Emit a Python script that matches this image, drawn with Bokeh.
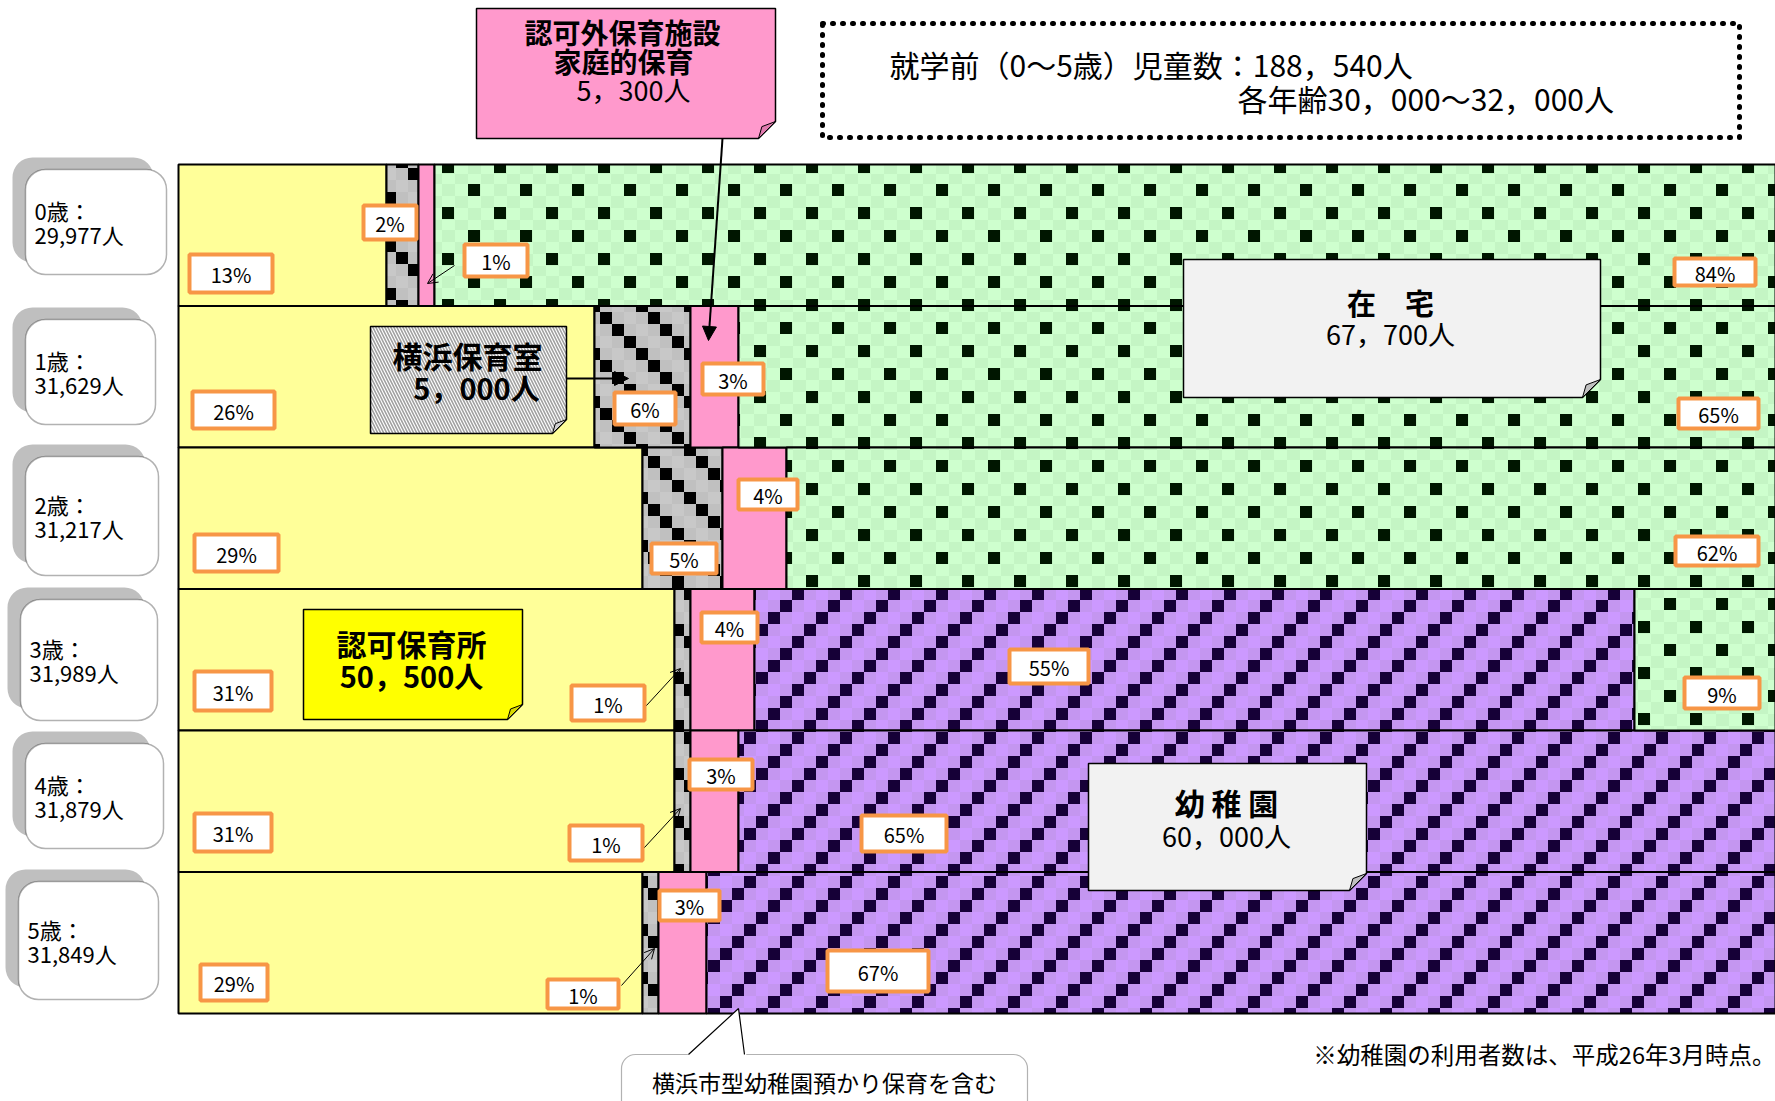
import zlib, struct, base64
import numpy as np
from bokeh.plotting import figure
from bokeh.models import (Range1d, ColumnDataSource, BoxAnnotation, Arrow,
                          NormalHead, OpenHead, ImageURLTexture)
from bokeh.core.properties import value
from bokeh.embed import file_html
from bokeh.resources import INLINE

# ---------------- data ----------------
ages = ["0歳", "1歳", "2歳", "3歳", "4歳", "5歳"]
children = ["29,977", "31,629", "31,217", "31,989", "31,879", "31,849"]
categories = ["認可保育所", "横浜保育室", "認可外保育施設・家庭的保育", "幼稚園", "在宅"]
ninka = [13, 26, 29, 31, 31, 29]        # 認可保育所 %
yokohama = [2, 6, 5, 1, 1, 1]           # 横浜保育室 %
ninkagai = [1, 3, 4, 4, 3, 3]           # 認可外保育施設・家庭的保育 %
youchien = [0, 0, 0, 55, 65, 67]        # 幼稚園 %
zaitaku = [84, 65, 62, 9, 0, 0]         # 在宅 %
category_totals = ["50，500人", "5，000人", "5，300人", "60，000人", "67，700人"]
total_line1 = "就学前（0～5歳）児童数：188，540人"
total_line2 = "各年齢30，000～32，000人"
note_text = "※幼稚園の利用者数は、平成26年3月時点。"
callout_text = "横浜市型幼稚園預かり保育を含む"

FONT = value("Noto Sans CJK JP")

# ---------------- textures ----------------
def png_url(w, h, pix):
    raw = bytearray()
    for yy in range(h):
        raw.append(0)
        for xx in range(w):
            raw.extend(pix(xx, yy))
    def chunk(t, d):
        c = struct.pack(">I", len(d)) + t + d
        return c + struct.pack(">I", zlib.crc32(t + d) & 0xffffffff)
    png = (b"\x89PNG\r\n\x1a\n"
           + chunk(b"IHDR", struct.pack(">IIBBBBB", w, h, 8, 2, 0, 0, 0))
           + chunk(b"IDAT", zlib.compress(bytes(raw)))
           + chunk(b"IEND", b""))
    return "data:image/png;base64," + base64.b64encode(png).decode()

def green_pix(x, y):
    if (x < 12 and y < 12) or (26 <= x < 38 and 23 <= y < 35):
        return (0, 22, 0)
    return (206, 255, 206) if ((x // 13 + y // 12) % 2) else (196, 245, 196)

def purple_pix(x, y):
    if ((x // 12) + (y // 12)) % 4 == 3:
        return (22, 0, 55)
    return (204, 153, 255) if ((x // 12 + y // 12) % 2) else (196, 150, 240)

def gray_pix(x, y):
    if ((x // 12) - (y // 12)) % 4 == 0:
        return (0, 0, 0)
    return (192, 192, 192) if ((x // 12 + y // 12) % 2) else (200, 200, 200)

tex_green = ImageURLTexture(url=png_url(52, 46, green_pix))
tex_purple = ImageURLTexture(url=png_url(48, 48, purple_pix))
tex_gray = ImageURLTexture(url=png_url(48, 48, gray_pix))

# ---------------- figure ----------------
W, H = 1775, 1101
p = figure(width=W, height=H, x_range=Range1d(0, W), y_range=Range1d(H, 0),
           output_backend="svg", toolbar_location=None, min_border=0,
           x_axis_type=None, y_axis_type=None)
p.xgrid.visible = False
p.ygrid.visible = False
p.outline_line_color = None
p.background_fill_color = "white"

# bar coordinate systems: percent on x, row index on y
PX0, PXW = 178.0, 16.0          # screen x of 0%, pixels per %
ROW_TOP, ROW_H = 164.0, 141.5   # screen y of first row top, row height
x0p = -PX0 / PXW
y0r = -0.5 - ROW_TOP / ROW_H
p.extra_x_ranges = {"pct": Range1d(x0p, x0p + W / PXW)}
p.extra_y_ranges = {"row": Range1d(y0r + H / ROW_H, y0r)}

series = [ninka, yokohama, ninkagai, youchien, zaitaku]
arr = np.array(series, dtype=float)
cum = np.cumsum(arr, axis=0)
lefts = cum - arr
styles = [
    dict(fill_color="#FFFF99"),
    dict(fill_color="#C0C0C0", hatch_pattern=value("gray"), hatch_extra={"gray": tex_gray}),
    dict(fill_color="#FF99CC"),
    dict(fill_color="#CC99FF", hatch_pattern=value("purple"), hatch_extra={"purple": tex_purple}),
    dict(fill_color="#CCFFCC", hatch_pattern=value("green"), hatch_extra={"green": tex_green}),
]
for k in range(len(series)):
    idx = [r for r in range(len(ages)) if arr[k, r] > 0]
    src = ColumnDataSource(dict(row=idx, left=lefts[k, idx], right=cum[k, idx]))
    p.hbar(y="row", left="left", right="right", height=1.0, source=src,
           line_color="black", line_width=2,
           x_range_name="pct", y_range_name="row", **styles[k])

# ---------------- left age labels ----------------
age_boxes = [(25, 166, 169, 274), (25, 155, 319, 424), (25, 158, 456, 575),
             (20, 157, 599, 720), (25, 163, 743, 848), (18, 158, 881, 999)]
for (bx0, bx1, by0, by1) in age_boxes:
    p.add_layout(BoxAnnotation(left=bx0 - 13, right=bx1 - 13, top=by0 - 12, bottom=by1 - 12,
                               fill_color="#BFBFBF", fill_alpha=1, line_color=None,
                               border_radius=20, level="underlay"))
for (bx0, bx1, by0, by1) in age_boxes:
    p.add_layout(BoxAnnotation(left=bx0, right=bx1, top=by0, bottom=by1,
                               fill_color="white", fill_alpha=1, line_color="black",
                               line_width=1.5, border_radius=20, level="underlay"))
lx, ly1, ly2, t1, t2 = [], [], [], [], []
for r, (bx0, bx1, by0, by1) in enumerate(age_boxes):
    c = (by0 + by1) / 2
    lx.append(bx0 + 9); ly1.append(c - 12); ly2.append(c + 12)
    t1.append(ages[r] + "："); t2.append(children[r] + "人")
p.text(x=lx, y=ly1, text=t1, text_font=FONT, text_font_size="22px",
       text_align="left", text_baseline="middle", text_color="black")
p.text(x=lx, y=ly2, text=t2, text_font=FONT, text_font_size="22px",
       text_align="left", text_baseline="middle", text_color="black")

# ---------------- callout note boxes ----------------
def note(x0, x1, y0, y1, f, fill, fold, **kw):
    p.patch([x0, x1, x1, x1 - f, x0], [y0, y0, y1 - f, y1, y1],
            fill_color=fill, line_color="black", line_width=1.5, **kw)
    p.patch([x1, x1 - f, x1 - 0.8 * f], [y1 - f, y1, y1 - 0.7 * f],
            fill_color=fold, line_color="black", line_width=1)

note(476, 775, 8, 138, 17, "#FF99CC", "#E07AAE")
note(370, 566, 326, 433, 14, "white", "#D0D0D0",
     hatch_pattern="left_diagonal_line", hatch_color="#A0A0A0", hatch_scale=6, hatch_weight=1.6)
note(303, 522, 609, 719, 15, "#FFFF00", "#D8D800")
note(1183, 1600, 259, 397, 18, "#F2F2F2", "#C0C0C0")
note(1088, 1366, 763, 890, 17, "#F2F2F2", "#C0C0C0")

# ---------------- dotted info box ----------------
p.line([822, 1739, 1739, 822, 822], [23, 23, 137, 137, 23], line_color="black",
       line_width=5, line_dash="1 9", line_cap="round")
p.text(x=[889, 1237], y=[63, 97], text=[total_line1, total_line2], text_font=FONT,
       text_font_size="30px", text_align="left", text_baseline="middle", text_color="black")

# ---------------- bottom callout ----------------
p.add_layout(BoxAnnotation(left=621, right=1027, top=1054, bottom=1130, fill_color="white",
                           fill_alpha=1, line_color="black", line_width=1.2,
                           border_radius=14, level="underlay"))
p.patch([686, 738, 746], [1055.5, 1008, 1055.5], fill_color="white", line_color=None)
p.multi_line([[688, 738, 744]], [[1054, 1008, 1054]], line_color="black", line_width=1.2)
p.text(x=[824], y=[1081], text=[callout_text], text_font=FONT, text_font_size="23px",
       text_align="center", text_baseline="middle", text_color="black")

# bottom-right note
p.text(x=[1775], y=[1053], text=[note_text], text_font=FONT, text_font_size="23.5px",
       text_align="right", text_baseline="middle", text_color="black")

# ---------------- percent label boxes ----------------
label_boxes = {
    (0, 0): (187, 274, 252, 294), (0, 1): (361, 418, 203, 241), (0, 2): (462, 529, 242, 278), (0, 4): (1672, 1757, 256, 287),
    (1, 0): (190, 276, 389, 430), (1, 1): (612, 677, 390, 426), (1, 2): (700, 765, 361, 396), (1, 4): (1676, 1760, 396, 430),
    (2, 0): (192, 280, 532, 573), (2, 1): (649, 718, 541, 575), (2, 2): (736, 799, 477, 511), (2, 4): (1673, 1760, 534, 567),
    (3, 0): (192, 273, 669, 712), (3, 1): (569, 646, 683, 722), (3, 2): (699, 759, 610, 644), (3, 3): (1007, 1090, 647, 685), (3, 4): (1682, 1761, 675, 710),
    (4, 0): (192, 273, 811, 853), (4, 1): (567, 644, 823, 862), (4, 2): (687, 754, 757, 791), (4, 3): (859, 948, 813, 853),
    (5, 0): (198, 269, 962, 1002), (5, 1): (545, 620, 977, 1010), (5, 2): (657, 721, 888, 922), (5, 3): (825, 930, 948, 993),
}
qx0, qx1, qy0, qy1, tx, ty, tt = [], [], [], [], [], [], []
for (r, k), (bx0, bx1, by0, by1) in label_boxes.items():
    qx0.append(bx0 + 2); qx1.append(bx1 - 2); qy0.append(by0 + 2); qy1.append(by1 - 2)
    tx.append((bx0 + bx1) / 2); ty.append((by0 + by1) / 2 + 1)
    tt.append(f"{series[k][r]}%")
p.quad(left=qx0, right=qx1, top=qy0, bottom=qy1, fill_color="white",
       line_color="#F79646", line_width=4)
p.text(x=tx, y=ty, text=tt, text_font=FONT, text_font_size="20px",
       text_align="center", text_baseline="middle", text_color="black")

# ---------------- callout texts ----------------
def bold(x, y, s, size="29px"):
    p.text(x=[x], y=[y], text=[s], text_font=FONT, text_font_size=size, text_font_style="bold",
           text_align="center", text_baseline="middle", text_color="black")

def normal(x, y, s, size="26px"):
    p.text(x=[x], y=[y], text=[s], text_font=FONT, text_font_size=size,
           text_align="center", text_baseline="middle", text_color="black")

bold(622, 31, "認可外保育施設", "28px")
bold(623, 60, "家庭的保育", "28px")
normal(633, 89, category_totals[2], "27px")
bold(467, 354, categories[1], "30px")
bold(476, 386, category_totals[1], "29px")
bold(411, 642, categories[0], "30px")
bold(411, 674, category_totals[0], "29px")
bold(1390, 301, "在　宅", "29px")
normal(1390, 333, category_totals[4], "27px")
bold(1226, 801, "幼 稚 園", "30px")
normal(1226, 835, category_totals[3], "27px")

# ---------------- arrows ----------------
p.add_layout(Arrow(end=NormalHead(size=14, fill_color="black", line_color="black"),
                   x_start=722, y_start=138, x_end=708, y_end=340, line_width=2))
p.add_layout(Arrow(end=NormalHead(size=14, fill_color="black", line_color="black"),
                   x_start=566, y_start=378, x_end=628, y_end=378, line_width=2))
for (xs, ys, xe, ye) in [(454, 265, 427, 283), (646, 705, 680, 668),
                         (644, 847, 680, 808), (621, 985, 654, 948)]:
    p.add_layout(Arrow(end=OpenHead(size=10, line_width=1), x_start=xs, y_start=ys,
                       x_end=xe, y_end=ye, line_width=1))

open("out.html", "w").write(file_html(p, INLINE))
